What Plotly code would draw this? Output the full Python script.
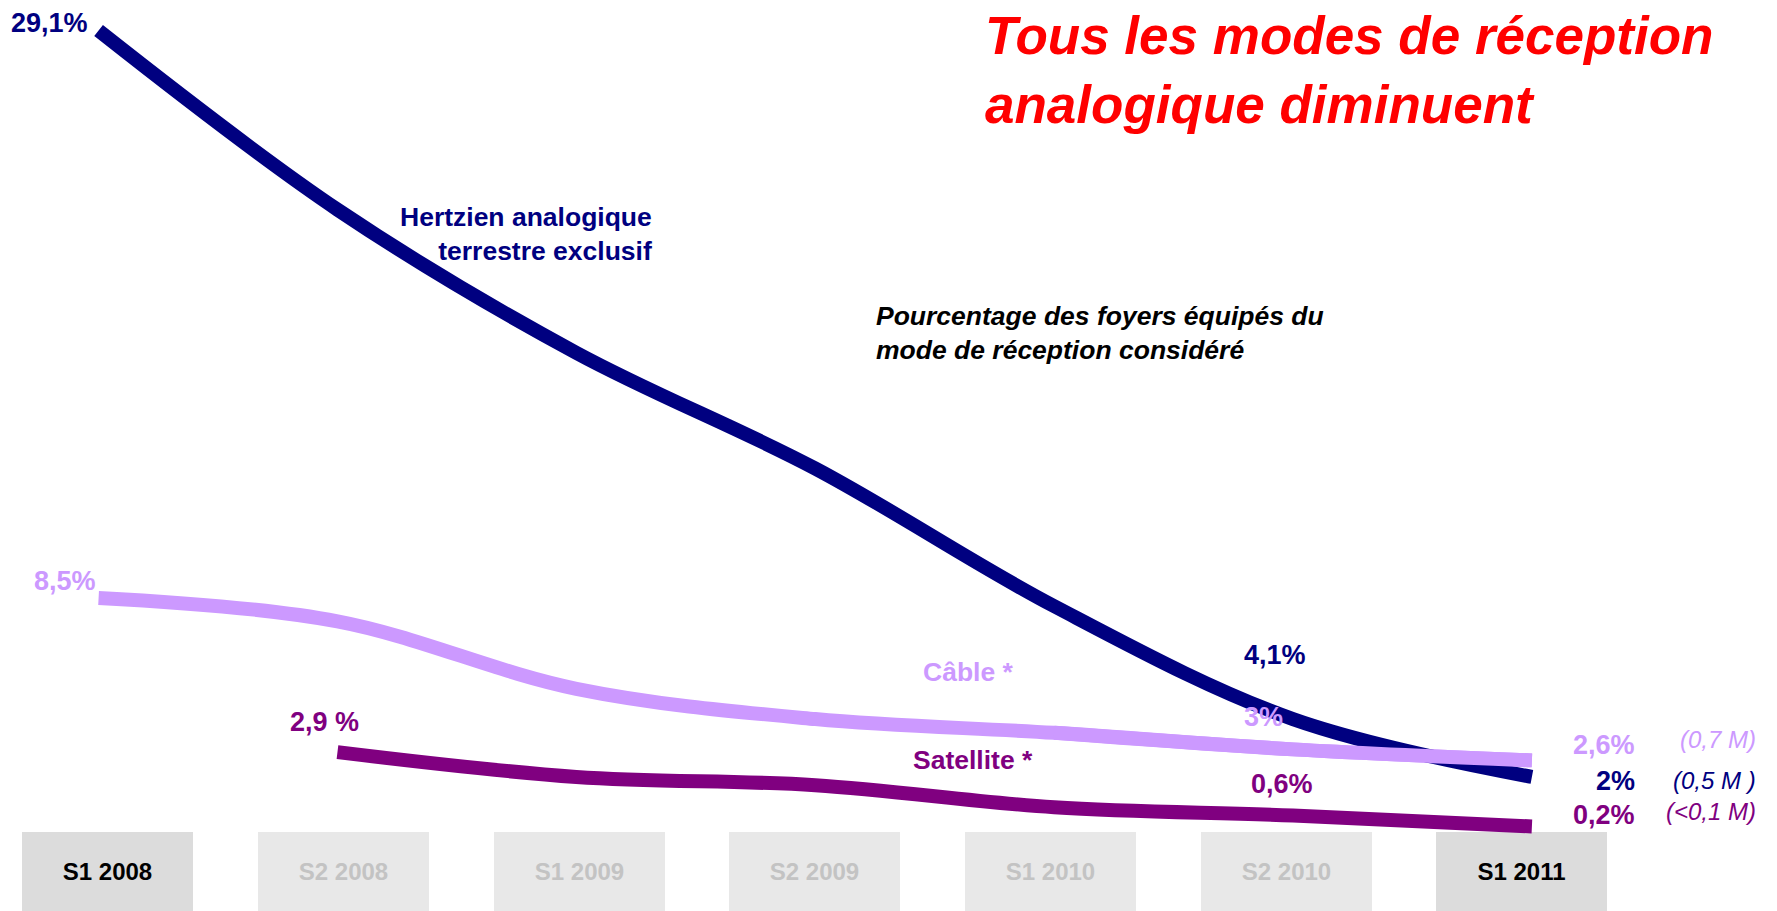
import plotly.graph_objects as go

# ---------------- data ----------------
periods = ["S1 2008", "S2 2008", "S1 2009", "S2 2009", "S1 2010", "S2 2010", "S1 2011"]
hertzien = [29.1, 22.6, 17.4, 13.2, 8.2, 4.1, 2.0]
cable = [8.5, 7.65, 5.2, 4.1, 3.6, 3.0, 2.6]
satellite = [None, 2.9, 2.0, 1.7, 0.9, 0.6, 0.2]

hertzien_labels = {0: "29,1%", 5: "4,1%", 6: "2%"}
cable_labels = {0: "8,5%", 5: "3%", 6: "2,6%"}
satellite_labels = {1: "2,9 %", 5: "0,6%", 6: "0,2%"}
millions = {"hertzien": "(0,5 M )", "cable": "(0,7 M)", "satellite": "(<0,1 M)"}

NAVY = "#000080"
LILAC = "#CC99FF"
PURPLE = "#800080"
FONT = "Liberation Sans, Arial, sans-serif"

W, H = 1777, 911
Y_MIN, Y_MAX = -2.869, 30.21

fig = go.Figure()

# period boxes (bottom)
highlight = [True, False, False, False, False, False, True]
fig.add_trace(go.Bar(
    x=periods, y=[-Y_MIN] * len(periods), base=Y_MIN,
    xaxis="x", yaxis="y",
    width=0.7255,
    marker=dict(color=["#DCDCDC" if h else "#E8E8E8" for h in highlight], line=dict(width=0)),
    text=["<b>%s</b>" % p for p in periods],
    textposition="inside", insidetextanchor="middle", textangle=0,
    textfont=dict(family=FONT, size=24,
                  color=["#000000" if h else "#C3C3C3" for h in highlight]),
    constraintext="none",
    hoverinfo="skip", showlegend=False,
))

# lines
for vals, col in [(cable, LILAC), (satellite, PURPLE), (hertzien, NAVY)]:
    fig.add_trace(go.Scatter(
        x=periods, y=vals, xaxis="x2", yaxis="y",
        mode="lines", line=dict(color=col, width=14, shape="spline", smoothing=1),
        connectgaps=False, hoverinfo="skip", showlegend=False,
    ))
# cable drawn above hertzien where they cross
fig.add_trace(go.Scatter(
    x=periods[4:], y=cable[4:], xaxis="x2", yaxis="y",
    mode="lines", line=dict(color=LILAC, width=14, shape="spline", smoothing=1),
    hoverinfo="skip", showlegend=False,
))

ann = []
VS = 27

def val_label(series, idx, text, color, xanchor, xshift, yshift, size=VS):
    ann.append(dict(x=periods[idx], y=series[idx], xref="x2", yref="y",
                    text="<b>%s</b>" % text, showarrow=False,
                    xanchor=xanchor, yanchor="middle", xshift=xshift, yshift=yshift,
                    font=dict(family=FONT, size=size, color=color)))

val_label(hertzien, 0, hertzien_labels[0], NAVY, "right", -9, 8)
val_label(hertzien, 5, hertzien_labels[5], NAVY, "center", -18, 64)
val_label(hertzien, 6, hertzien_labels[6], NAVY, "right", 105, -4)
val_label(cable, 0, cable_labels[0], LILAC, "right", -1, 17)
val_label(cable, 5, cable_labels[5], LILAC, "center", -30, 32)
val_label(cable, 6, cable_labels[6], LILAC, "right", 105, 15)
val_label(satellite, 1, satellite_labels[1], PURPLE, "center", -13, 30)
val_label(satellite, 5, satellite_labels[5], PURPLE, "center", -11, 31)
val_label(satellite, 6, satellite_labels[6], PURPLE, "right", 105, 11)

def m_label(series, text, color, yshift):
    ann.append(dict(x=periods[6], y=series[6], xref="x2", yref="y",
                    text="<i>%s</i>" % text, showarrow=False,
                    xanchor="right", yanchor="middle", xshift=226, yshift=yshift,
                    font=dict(family=FONT, size=24, color=color)))

m_label(cable, millions["cable"], LILAC, 21)
m_label(hertzien, millions["hertzien"], NAVY, -4)
m_label(satellite, millions["satellite"], PURPLE, 15)

def paper(text, px, py, color, size, xanchor="left", align="left"):
    ann.append(dict(x=px / W, y=1 - py / H, xref="paper", yref="paper",
                    text=text, showarrow=False, xanchor=xanchor, yanchor="middle",
                    align=align, font=dict(family=FONT, size=size, color=color)))

paper("<b><i>Tous les modes de réception<br>analogique diminuent</i></b>", 983, 70, "#FF0000", 53)
paper("<b><i>Pourcentage des foyers équipés du<br>mode de réception considéré</i></b>", 874, 333, "#000000", 26.5)
paper("<b>Hertzien analogique<br>terrestre exclusif</b>", 654, 234, NAVY, 26.5, xanchor="right", align="right")
paper("<b>Câble *</b>", 968, 672, LILAC, 26.5, xanchor="center", align="center")
paper("<b>Satellite *</b>", 973, 760, PURPLE, 26.5, xanchor="center", align="center")

fig.update_layout(
    width=W, height=H,
    margin=dict(l=0, r=0, t=0, b=0),
    paper_bgcolor="white", plot_bgcolor="white",
    xaxis=dict(type="category", categoryorder="array", categoryarray=periods,
               range=[-0.457, 7.082], visible=False, fixedrange=True),
    xaxis2=dict(type="category", categoryorder="array", categoryarray=periods,
                range=[-0.4127, 7.026], overlaying="x", anchor="y",
                visible=False, fixedrange=True),
    yaxis=dict(range=[Y_MIN, Y_MAX], visible=False, fixedrange=True),
    annotations=ann,
    bargap=0,
)

fig.write_html("out.html", config={"displayModeBar": False},
               post_script="document.body.style.margin='0';")
